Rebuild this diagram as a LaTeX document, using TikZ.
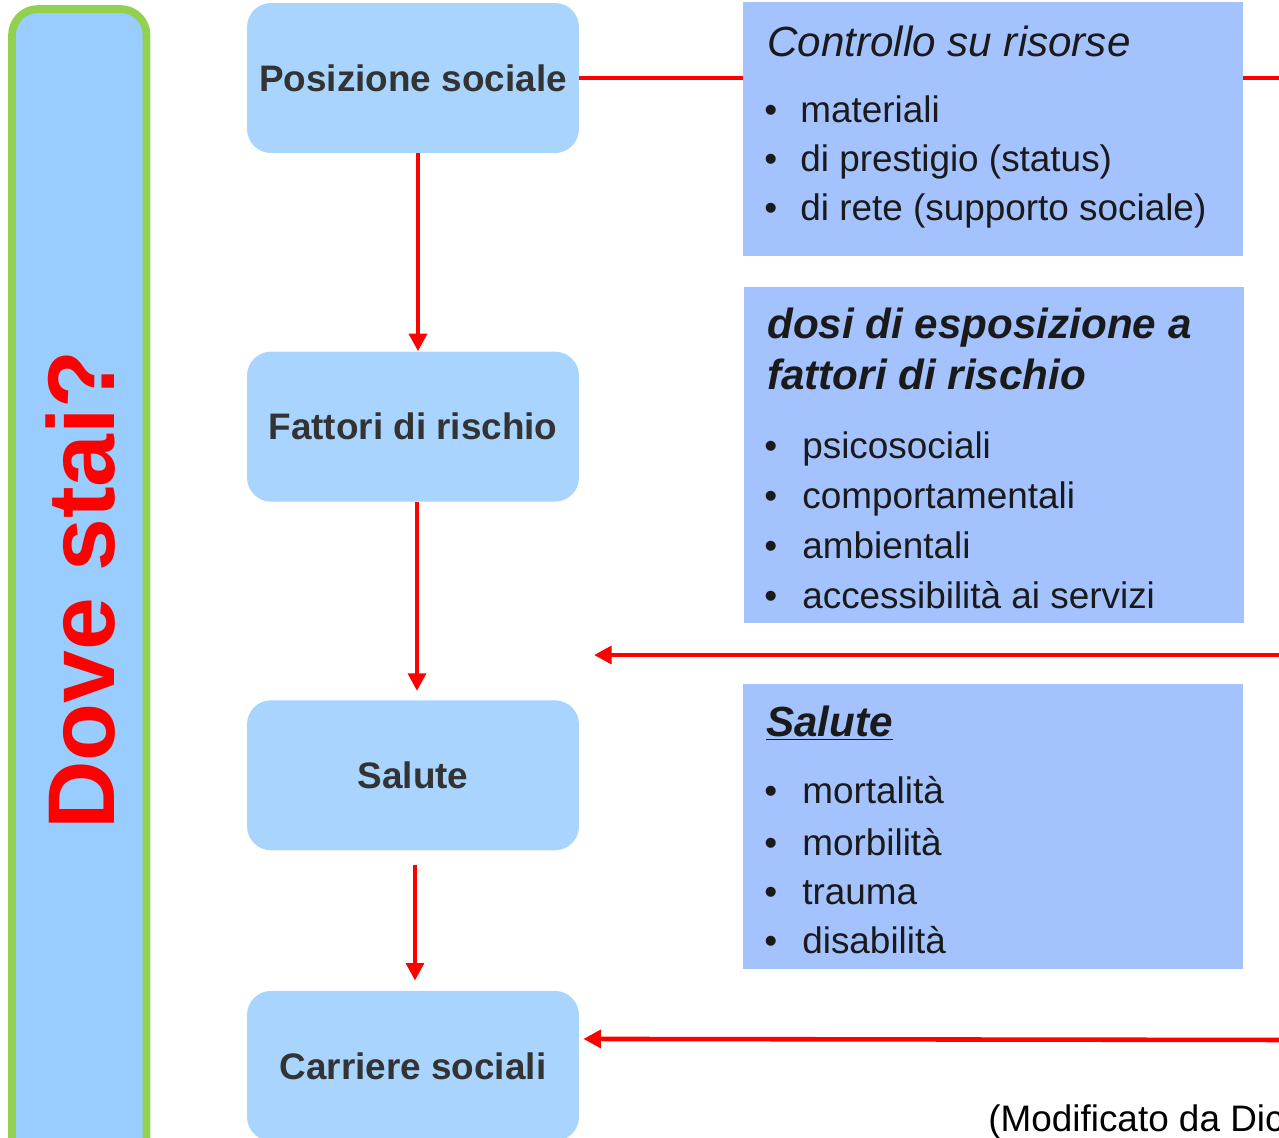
\documentclass[tikz,border=0pt]{standalone}
\usepackage{fontspec}
\setmainfont{Liberation Sans}
\usepackage{xcolor}
\usetikzlibrary{positioning,arrows.meta}

\definecolor{boxblue}{HTML}{A8D4FE}
\definecolor{sideblue}{HTML}{99CCFF}
\definecolor{panelblue}{HTML}{A3C2FE}
\definecolor{leafgreen}{HTML}{92D050}
\definecolor{stagetext}{HTML}{333333}
\definecolor{inktext}{HTML}{1A1A1A}

\tikzset{
    stage/.style={rectangle, rounded corners=0.48cm, fill=boxblue, minimum width=6.64cm, minimum height=3cm, inner sep=0pt, text=stagetext, font=\fontsize{21}{25}\selectfont\bfseries},
    panel/.style={rectangle, fill=panelblue, minimum width=10cm, anchor=north west, inner sep=0pt},
    flow/.style={draw=red, line width=2.6pt, -{Triangle[length=10pt,width=10pt]}},
    heading/.style={anchor=base west, inner sep=0pt, text=inktext, font=\fontsize{24}{29}\selectfont\itshape},
    item/.style={anchor=base west, inner sep=0pt, text=inktext, font=\fontsize{21}{25}\selectfont},
}

\begin{document}
\begin{tikzpicture}[x=0.02cm, y=-0.02cm]
    \useasboundingbox (0,0) rectangle (1279,1137);

    % side bar
    \draw[leafgreen, line width=4.4pt, fill=sideblue, rounded corners=0.52cm] (12,9) rectangle (146.5,1175);
    \node[rotate=90, inner sep=0pt, text=red, font=\fontsize{54}{60}\selectfont\bfseries] (dove) at (81,590) {Dove stai?};

    % left column
    \node[stage] (pos) at (413,78) {Posizione sociale};
    \node[stage, below=3.96cm of pos] (fat) {Fattori di rischio};
    \node[stage, below=3.96cm of fat] (sal) {Salute};
    \node[stage, below=2.8cm of sal] (car) {Carriere sociali};

    \draw[flow] ([xshift=0.1cm]pos.south) -- ([xshift=0.1cm]fat.north);
    \draw[flow, shorten >=0.18cm] ([xshift=0.08cm]fat.south) -- ([xshift=0.08cm]sal.north);
    \draw[flow, shorten <=0.28cm, shorten >=0.2cm] ([xshift=0.04cm]sal.south) -- ([xshift=0.04cm]car.north);

    % lines from the right
    \coordinate (topR) at (1300,78);
    \draw[red, line width=2.6pt] (pos.east) -- (topR);
    \coordinate (midR) at (1300,655);
    \coordinate (midL) at (594,655);
    \draw[flow] (midR) -- (midL);
    \coordinate (lowR) at (1300,1040);
    \draw[flow] (lowR) -- ([xshift=0.08cm,yshift=0.54cm]car.east);

    % right panels
    \node[panel, minimum height=5.08cm] (risorse) at (743,2) {};
    \node[panel, minimum height=6.72cm] (dosi) at (744,287) {};
    \node[panel, minimum height=5.7cm] (esiti) at (743,684) {};

    \node[heading] (risorse-t) at (767,56) {Controllo su risorse};
    \foreach \y/\txt in {122/materiali, 171/di prestigio (status), 220/di rete (supporto sociale)}
        \node[item] at (764,\y) {\makebox[0.72cm][l]{\textbullet}\txt};

    \node[heading, font=\fontsize{24}{29}\selectfont\bfseries\itshape] (dosi-t1) at (767,338) {dosi di esposizione a};
    \node[heading, font=\fontsize{24}{29}\selectfont\bfseries\itshape] (dosi-t2) at (767,389) {fattori di rischio};
    \foreach \y/\txt in {458/psicosociali, 508/comportamentali, 558/ambientali, 608/accessibilità ai servizi}
        \node[item] at (764,\y) {\makebox[0.76cm][l]{\textbullet}\txt};

    \node[heading, font=\fontsize{24}{29}\selectfont\bfseries\itshape] (esiti-t) at (766,736) {\underline{Salute}};
    \foreach \y/\txt in {803/mortalità, 855/morbilità, 904/trauma, 953/disabilità}
        \node[item] at (764,\y) {\makebox[0.76cm][l]{\textbullet}\txt};

    \node[item, text=black] (fonte) at (988,1131) {(Modificato da Dic};
\end{tikzpicture}
\end{document}
